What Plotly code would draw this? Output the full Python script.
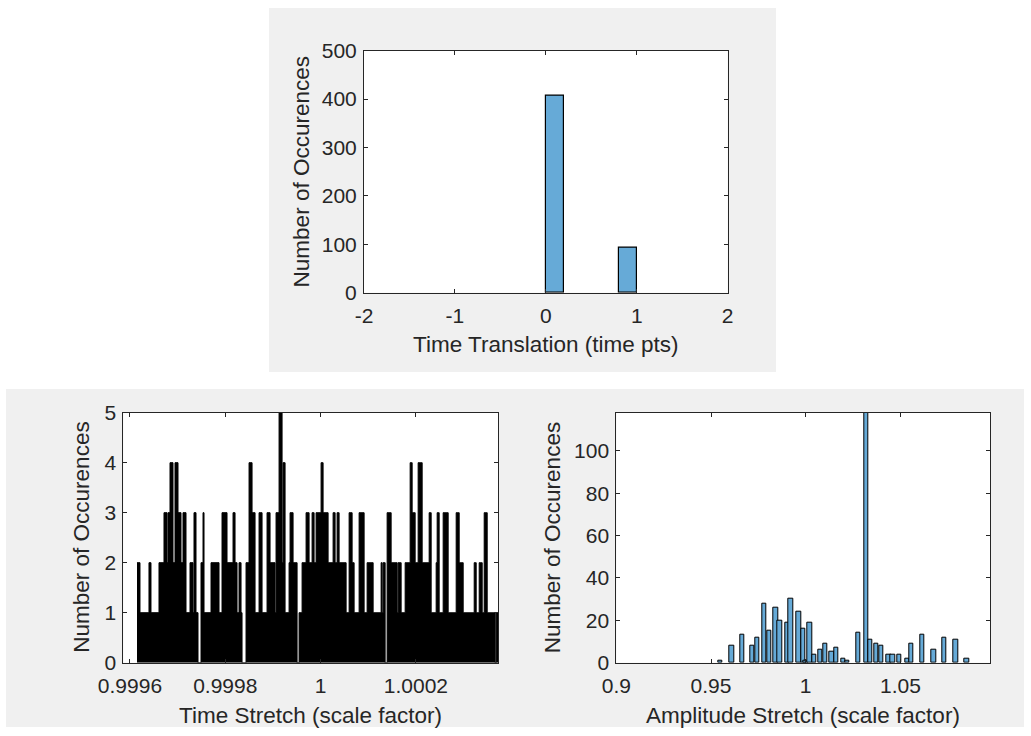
import plotly.graph_objects as go

W, H = 1031, 736
FONT = "Liberation Sans, Arial, Helvetica, sans-serif"
TXT = "#262626"
AX = "#262626"
BAR_FACE = "rgb(102,170,215)"
PANEL_GRAY = "#f0f0f0"

# ---- Time translation histogram (bins of width 0.2 over [0, 1]) ----
tt_centers = [0.1, 0.3, 0.5, 0.7, 0.9]
tt_counts = [408, 0, 0, 0, 92]
tt_bin_width = 0.2

# ---- Time stretch histogram (very fine bins) ----
ts_first_edge = 0.9996147
ts_bin_width = 2.1e-6
ts_counts = [
    2, 2, 2, 1, 1, 1, 1, 1, 1, 1, 1, 1, 2, 2, 1, 1, 1, 1, 1, 1, 1, 1, 2, 2, 2, 2, 2, 3, 3, 3,
    2, 3, 3, 4, 4, 4, 2, 2, 4, 4, 4, 3, 3, 3, 2, 2, 3, 3, 3, 1, 1, 1, 1, 2, 2, 2, 1, 3, 3, 1, 1,
    0, 0, 0, 2, 2, 3, 1, 1, 1, 1, 1, 1, 1, 2, 2, 2, 2, 2, 2, 2, 2, 1, 1, 1, 3, 3, 3, 3, 3,
    2, 2, 2, 2, 2, 2, 3, 3, 2, 2, 1, 1, 2, 2, 1, 0, 0, 0, 0, 2, 2, 2, 4, 4, 4, 3, 3, 3, 1, 1, 1, 1,
    3, 3, 3, 1, 1, 1, 1, 1, 3, 3, 3, 2, 2, 2, 2, 2, 1, 3, 3, 3, 5, 5, 5, 2, 4, 4, 1, 1, 1, 1, 2, 3, 3, 3,
    2, 2, 2, 2, 0, 0, 1, 1, 1, 2, 2, 2, 2, 3, 3, 3, 2, 2, 2, 3, 3, 2, 2, 3, 3, 3, 3, 3, 4, 4, 3, 3, 3, 3, 3,
    2, 2, 2, 2, 2, 3, 3, 2, 2, 3, 3, 2, 2, 2, 2, 2, 2, 2, 1, 1, 1, 3, 3, 3, 2, 2, 1, 1, 1, 1, 1, 3, 3, 3, 3, 3, 1, 1, 1,
    2, 2, 2, 2, 2, 2, 1, 1, 1, 1, 1, 1, 1, 1, 2, 1, 2, 2, 0, 0, 3, 3, 3, 3, 2, 2, 2, 2, 2, 2, 1, 2, 2, 2, 1, 1, 1, 1,
    2, 2, 2, 2, 2, 4, 4, 3, 3, 3, 2, 2, 2, 4, 4, 4, 4, 2, 2, 2, 2, 2, 2, 2, 3, 3, 1, 1, 1, 1, 1, 2, 3, 3, 1, 1, 1, 1,
    3, 3, 3, 3, 3, 1, 1, 1, 1, 1, 1, 1, 1, 3, 3, 3, 2, 2, 2, 2, 1, 1, 1, 1, 1, 1, 1, 1, 1, 1, 1,
    2, 2, 1, 1, 1, 2, 2, 2, 1, 1, 3, 3, 3, 1, 1, 1, 1, 1, 1, 1, 1, 0, 1, 1, 1,
]

# ---- Amplitude stretch histogram ----
as_centers = [
    0.9549, 0.9610, 0.9665, 0.9719, 0.9744, 0.9782, 0.9807, 0.9842, 0.9864, 0.9903,
    0.9922, 0.9963, 0.9986, 1.0001, 1.0021, 1.0045, 1.0078, 1.0102, 1.0137, 1.0161,
    1.0200, 1.0219, 1.0276, 1.0320, 1.0341, 1.0374, 1.0398, 1.0438, 1.0459, 1.0494,
    1.0537, 1.0557, 1.0615, 1.0676, 1.0732, 1.0792, 1.0850,
]
as_counts = [
    1, 8, 13, 8, 12, 28, 15, 26, 20, 19,
    30, 24, 16, 1, 19, 4, 6, 9, 5, 7,
    2, 1, 14, 118, 11, 9, 8, 4, 4, 4,
    2, 9, 13, 6, 12, 11, 2,
]
as_bin_width = 0.0023

# Axis tick labels
tt_xticks = [-2, -1, 0, 1, 2]
tt_yticks = [0, 100, 200, 300, 400, 500]
ts_xticks = [0.9996, 0.9998, 1.0, 1.0002]
ts_xlabels = ["0.9996", "0.9998", "1", "1.0002"]
ts_yticks = [0, 1, 2, 3, 4, 5]
as_xticks = [0.9, 0.95, 1.0, 1.05]
as_xlabels = ["0.9", "0.95", "1", "1.05"]
as_yticks = [0, 20, 40, 60, 80, 100]

Y_TITLE = "Number of Occurences"


def fx(px):
    return px / W


def fy(px):
    return 1 - px / H


fig = go.Figure()

# empty bins draw nothing visible, so only the filled ones are plotted
tt_x = [c for c, n in zip(tt_centers, tt_counts) if n > 0]
tt_y = [n for n in tt_counts if n > 0]
fig.add_trace(go.Bar(
    x=tt_x, y=tt_y, width=tt_bin_width,
    marker=dict(color=BAR_FACE, line=dict(color="black", width=1.2)),
    xaxis="x", yaxis="y", showlegend=False,
))

# step outline of the fine time-stretch histogram, filled black
ts_edges = [ts_first_edge + i * ts_bin_width for i in range(len(ts_counts) + 1)]
fig.add_trace(go.Scatter(
    x=ts_edges, y=ts_counts + [ts_counts[-1]],
    mode="lines", line=dict(shape="hv", color="black", width=1),
    fill="tozeroy", fillcolor="black",
    xaxis="x2", yaxis="y2", showlegend=False,
))

fig.add_trace(go.Bar(
    x=as_centers, y=as_counts, width=as_bin_width,
    marker=dict(color=BAR_FACE, line=dict(color="black", width=1)),
    xaxis="x3", yaxis="y3", showlegend=False,
))

axis_common = dict(
    showline=True, linecolor=AX, linewidth=1, mirror="ticks",
    ticks="inside", ticklen=4, tickwidth=1, tickcolor=AX,
    showgrid=False, zeroline=False, automargin=False,
    tickfont=dict(family=FONT, size=21, color=TXT),
)
x_common = dict(axis_common, ticklabelstandoff=4)
y_common = dict(axis_common, ticklabelstandoff=2)

# plot-area rectangles in pixels (left, top, right, bottom)
top_box = (364, 50.7, 727.7, 292.7)
bl_box = (123.3, 412.7, 498.3, 662.7)
br_box = (616.3, 412.7, 990.0, 662.7)

fig.update_layout(
    width=W, height=H,
    margin=dict(l=0, r=0, t=0, b=0, autoexpand=False),
    paper_bgcolor="white", plot_bgcolor="white",
    bargap=0,
    xaxis=dict(x_common, domain=[fx(top_box[0]), fx(top_box[2])], anchor="y",
               range=[-2, 2], tickvals=tt_xticks, ticktext=[str(v) for v in tt_xticks]),
    yaxis=dict(y_common, domain=[fy(top_box[3]), fy(top_box[1])], anchor="x",
               range=[0, 500], tickvals=tt_yticks),
    xaxis2=dict(x_common, domain=[fx(bl_box[0]), fx(bl_box[2])], anchor="y2",
                range=[0.999586, 1.000373], tickvals=ts_xticks, ticktext=ts_xlabels),
    yaxis2=dict(y_common, domain=[fy(bl_box[3]), fy(bl_box[1])], anchor="x2",
                range=[0, 5], tickvals=ts_yticks),
    xaxis3=dict(x_common, domain=[fx(br_box[0]), fx(br_box[2])], anchor="y3",
                range=[0.9, 1.0973], tickvals=as_xticks, ticktext=as_xlabels),
    yaxis3=dict(y_common, domain=[fy(br_box[3]), fy(br_box[1])], anchor="x3",
                range=[0, 118], tickvals=as_yticks),
)

# grey figure panels behind each set of axes, with white plot areas on top
shapes = []
for (x0, y0, x1, y1) in [(269, 8, 776, 372), (6, 389, 1024, 727)]:
    shapes.append(dict(type="rect", xref="paper", yref="paper",
                       x0=fx(x0), x1=fx(x1), y0=fy(y1), y1=fy(y0),
                       fillcolor=PANEL_GRAY, line=dict(width=0), layer="below"))
for xa, ya in [("x", "y"), ("x2", "y2"), ("x3", "y3")]:
    shapes.append(dict(type="rect", xref=f"{xa} domain", yref=f"{ya} domain",
                       x0=0, x1=1, y0=0, y1=1,
                       fillcolor="white", line=dict(width=0), layer="below"))
fig.update_layout(shapes=shapes)

title_font = dict(family=FONT, size=22.5, color=TXT)
annotations = [
    dict(text="Time Translation (time pts)", x=fx(545.9), y=fy(344)),
    dict(text="Time Stretch (scale factor)", x=fx(310.8), y=fy(715)),
    dict(text="Amplitude Stretch (scale factor)", x=fx(803.2), y=fy(715)),
    dict(text=Y_TITLE, x=fx(301.7), y=fy(171.7), textangle=-90),
    dict(text=Y_TITLE, x=fx(82), y=fy(537.7), textangle=-90),
    dict(text=Y_TITLE, x=fx(552.5), y=fy(537.7), textangle=-90),
]
for a in annotations:
    a.update(xref="paper", yref="paper", showarrow=False, font=title_font,
             xanchor="center", yanchor="middle")
fig.update_layout(annotations=annotations)

fig.write_html("out.html")
